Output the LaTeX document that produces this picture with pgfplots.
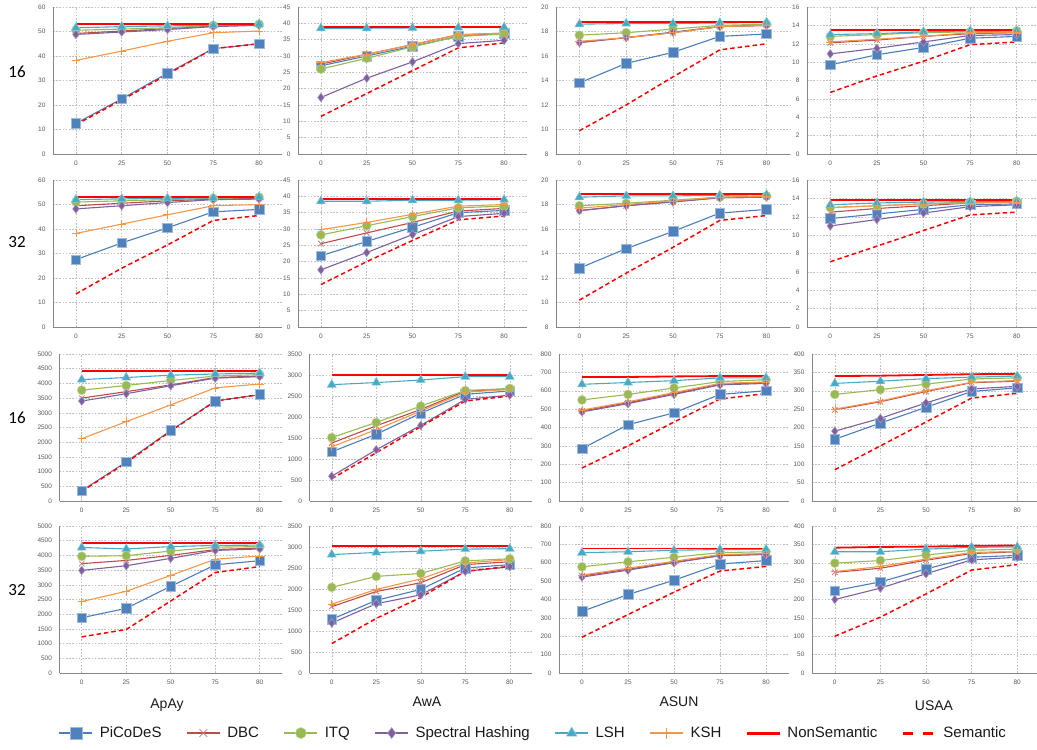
\documentclass[border=0pt]{standalone}
\usepackage{fontspec}
\setmainfont{Liberation Sans}
\newfontfamily\calibri{Carlito}
\usepackage{pgfplots}
\pgfplotsset{compat=1.18}
\usepackage{pgfplotstable}

\definecolor{cP}{HTML}{4A7EBB}
\definecolor{cPf}{HTML}{4F81BD}
\definecolor{cD}{HTML}{BE4B48}
\definecolor{cI}{HTML}{98B954}
\definecolor{cS}{HTML}{7D60A0}
\definecolor{cL}{HTML}{46AAC5}
\definecolor{cK}{HTML}{F79646}
\definecolor{axgray}{HTML}{868686}
\definecolor{grdgray}{HTML}{BFBFBF}
\definecolor{lblgray}{HTML}{595959}

% columns: x, PiCoDeS, DBC, ITQ, Spectral, LSH, KSH, NonSemantic, Semantic
\pgfplotstableread{
x P D I S L K N M
0 12.5 49.2 50.5 48.8 51.5 38.2 53 12
1 22.5 50.2 51.0 49.8 52.0 42.0 53 22
2 33.0 51.2 51.5 50.8 52.3 46.0 53 32.5
3 43.0 52.2 52.5 52.0 52.5 49.5 53 43
4 45.0 52.7 53.0 52.5 53.0 50.2 53 45
}\tA
\pgfplotstableread{
x P D I S L K N M
0 27 27.5 26 17.3 38.5 28 39 11.5
1 30 30.5 29.3 23.2 38.5 30.5 39 18.5
2 33 33.5 32.8 28.2 38.6 33.5 39 25.5
3 36 36.5 36 33.8 38.7 36.5 39 32.5
4 37 37 36.7 34.8 38.8 37 39 34
}\tB
\pgfplotstableread{
x P D I S L K N M
0 13.8 17.1 17.7 17.1 18.6 17.2 18.8 9.9
1 15.4 17.5 17.9 17.5 18.65 17.5 18.8 12
2 16.3 17.9 18.2 17.95 18.65 17.9 18.8 14.3
3 17.6 18.4 18.5 18.4 18.7 18.4 18.8 16.5
4 17.8 18.5 18.6 18.5 18.75 18.5 18.8 17
}\tC
\pgfplotstableread{
x P D I S L K N M
0 9.7 12.1 12.8 10.9 13.0 12.2 13.5 6.7
1 10.8 12.4 13.0 11.5 13.1 12.5 13.5 8.5
2 11.6 12.8 13.2 12.2 13.3 12.8 13.5 10.1
3 12.6 13.1 13.3 12.9 13.4 13.2 13.5 11.9
4 12.8 13.2 13.4 13.0 13.4 13.2 13.5 12.2
}\tD
\pgfplotstableread{
x P D I S L K N M
0 27.5 49.5 51 48.2 52 38.2 53 13.5
1 34.3 50.5 51.5 49.5 52.3 42 53 24
2 40.5 51.5 52 50.8 52.5 45.8 53 33.5
3 47 52.2 52.5 52 52.7 49.5 53 43.5
4 48 52.5 53 52.2 53 50 53 45.5
}\tE
\pgfplotstableread{
x P D I S L K N M
0 21.8 25.5 28.2 17.5 38.5 29.8 39.2 13
1 26.2 28.8 31 22.8 38.5 32 39.2 20
2 30.5 32 33.8 28.3 38.8 34.5 39.2 26.5
3 35 35.5 36.5 33.8 38.8 37 39.2 32.8
4 35.7 36.3 37 34.8 39 37.5 39.2 34
}\tF
\pgfplotstableread{
x P D I S L K N M
0 12.8 17.5 17.9 17.5 18.6 17.7 18.85 10.2
1 14.4 17.9 18.1 17.9 18.7 18.0 18.85 12.4
2 15.8 18.25 18.35 18.2 18.7 18.3 18.85 14.5
3 17.3 18.55 18.6 18.55 18.75 18.6 18.85 16.7
4 17.6 18.6 18.7 18.6 18.8 18.65 18.85 17.1
}\tG
\pgfplotstableread{
x P D I S L K N M
0 11.8 12.5 13.0 11.0 13.3 13.0 13.8 7.1
1 12.3 12.9 13.2 11.7 13.5 13.2 13.8 8.8
2 12.8 13.2 13.4 12.4 13.6 13.4 13.8 10.5
3 13.3 13.5 13.6 13.1 13.65 13.5 13.8 12.2
4 13.4 13.6 13.7 13.3 13.7 13.6 13.8 12.5
}\tH
\pgfplotstableread{
x P D I S L K N M
0 350 3500 3770 3400 4130 2120 4420 330
1 1330 3720 3930 3650 4200 2700 4420 1300
2 2400 3950 4100 3920 4280 3270 4420 2380
3 3400 4200 4250 4180 4320 3850 4420 3400
4 3620 4250 4300 4230 4350 3980 4420 3620
}\tI
\pgfplotstableread{
x P D I S L K N M
0 1170 1380 1510 590 2770 1290 3000 530
1 1590 1790 1870 1220 2820 1700 3000 1150
2 2090 2180 2260 1800 2880 2140 3000 1770
3 2540 2620 2630 2420 2960 2590 3000 2380
4 2620 2660 2680 2520 2960 2660 3000 2500
}\tJ
\pgfplotstableread{
x P D I S L K N M
0 285 490 550 485 635 495 675 180
1 415 535 580 530 645 540 675 300
2 480 585 615 580 655 590 678 430
3 580 635 650 632 670 640 680 555
4 600 645 660 640 670 648 680 585
}\tK
\pgfplotstableread{
x P D I S L K N M
0 168 248 290 190 320 250 340 85
1 212 270 303 225 326 272 341 150
2 255 298 318 267 333 300 343 215
3 298 322 332 305 337 323 345 280
4 308 326 335 312 340 328 346 293
}\tL
\pgfplotstableread{
x P D I S L K N M
0 1880 3720 3970 3490 4270 2430 4420 1230
1 2200 3830 3990 3650 4220 2780 4420 1480
2 2950 4000 4150 3900 4300 3320 4420 2450
3 3680 4200 4280 4170 4340 3870 4420 3420
4 3820 4250 4300 4220 4350 3980 4420 3620
}\tM
\pgfplotstableread{
x P D I S L K N M
0 1280 1580 2040 1190 2820 1640 3020 700
1 1730 1940 2300 1650 2870 1990 3020 1300
2 1990 2150 2370 1860 2900 2240 3020 1800
3 2500 2580 2670 2420 2950 2620 3020 2420
4 2580 2650 2720 2530 2960 2700 3020 2540
}\tN
\pgfplotstableread{
x P D I S L K N M
0 335 528 578 522 655 533 678 195
1 427 565 605 560 660 570 678 318
2 505 603 630 600 668 608 678 440
3 593 640 655 638 672 645 678 555
4 612 648 660 645 673 650 678 580
}\tO
\pgfplotstableread{
x P D I S L K N M
0 224 274 299 200 330 276 341 100
1 248 285 306 231 330 290 343 152
2 283 307 321 270 337 310 344 215
3 315 325 334 308 342 328 346 280
4 320 330 337 315 343 331 347 295
}\tP

\pgfplotsset{
  serP/.style={color=cP, line width=1.1pt, mark=square*, mark size=4.8pt,
    mark options={solid, fill=cPf, draw=cPf!55!white, line width=0.6pt}},
  serD/.style={color=cD, line width=1.1pt, mark=x, mark size=3.9pt,
    mark options={solid, draw=cD!75!white, line width=0.8pt}},
  serI/.style={color=cI, line width=1.1pt, mark=*, mark size=4.5pt,
    mark options={solid, fill=cI, draw=cI!60!white, line width=0.5pt}},
  serS/.style={color=cS, line width=1.1pt, mark=diamond*, mark size=4.4pt,
    mark options={solid, fill=cS, draw=cS!60!white, line width=0.5pt}},
  serL/.style={color=cL, line width=1.1pt, mark=triangle*, mark size=5.2pt,
    mark options={solid, fill=cL, draw=cL!60!white, line width=0.5pt}},
  serK/.style={color=cK, line width=1.1pt, mark=+, mark size=4pt,
    mark options={solid, draw=cK, line width=0.6pt}},
  serN/.style={color=red, line width=1.8pt, no markers},
  serM/.style={color=red, line width=1.5pt, dash pattern=on 4.5pt off 3pt, no markers},
  panel/.style={
    scale only axis, height=147pt, anchor=south west,
    xmin=-0.5, xmax=4.5, xtick={0,1,2,3,4}, xticklabels={0,25,50,75,80},
    axis x line*=bottom, axis y line*=left,
    axis line style={draw=axgray, line width=0.9pt, -},
    xmajorgrids, ymajorgrids,
    major grid style={draw=grdgray, line width=0.5pt, dash pattern=on 1.6pt off 1.6pt},
    major tick length=0pt,
    tick label style={font=\fontsize{6.5}{7}\selectfont, text=lblgray},
    /pgf/number format/assume math mode=true,
    /pgf/number format/fixed,
    /pgf/number format/1000 sep={},
    scaled y ticks=false,
    yticklabel style={xshift=-4pt},
    xticklabel style={yshift=-3.5pt},
  },
}

\newcommand\panel[7]{%
\begin{axis}[panel, at={(#1pt,-#2pt)}, width=#3pt, ymin=#4, ymax=#5, ytick distance=#6]
\addplot[serP] table[x=x,y=P]{#7};
\addplot[serD] table[x=x,y=D]{#7};
\addplot[serI] table[x=x,y=I]{#7};
\addplot[serS] table[x=x,y=S]{#7};
\addplot[serL] table[x=x,y=L]{#7};
\addplot[serK] table[x=x,y=K]{#7};
\addplot[serN] table[x=x,y=N]{#7};
\addplot[serM] table[x=x,y=M]{#7};
\end{axis}}

\begin{document}
\begin{tikzpicture}
\useasboundingbox (0pt,0pt) rectangle (1037pt,-750pt);
% row 1
\panel{53}{154}{229}{0}{60}{10}{\tA}
\panel{298}{154}{229}{0}{45}{5}{\tB}
\panel{556}{154}{234}{8}{20}{2}{\tC}
\panel{807}{154}{233}{0}{16}{2}{\tD}
% row 2
\panel{53}{327}{229}{0}{60}{10}{\tE}
\panel{298}{327}{229}{0}{45}{5}{\tF}
\panel{556}{327}{234}{8}{20}{2}{\tG}
\panel{807}{327}{233}{0}{16}{2}{\tH}
% row 3
\panel{59.5}{501}{222.5}{0}{5000}{500}{\tI}
\panel{309.5}{501}{222.5}{0}{3500}{500}{\tJ}
\panel{559}{501}{230}{0}{800}{100}{\tK}
\panel{812}{501}{228}{0}{400}{50}{\tL}
% row 4
\panel{59.5}{673}{222.5}{0}{5000}{500}{\tM}
\panel{309.5}{673}{222.5}{0}{3500}{500}{\tN}
\panel{559}{673}{230}{0}{800}{100}{\tO}
\panel{812}{673}{228}{0}{400}{50}{\tP}

% legend
\begin{axis}[at={(0pt,-750pt)}, anchor=south west, scale only axis,
  width=1037pt, height=34pt, hide axis, xmin=0, xmax=1, ymin=0, ymax=1,
  legend columns=8,
  legend style={at={(0.514,0.5)}, anchor=center, draw=none, fill=none,
    font=\fontsize{15}{18}\selectfont, text=black!90,
    /tikz/every odd column/.append style={column sep=4pt},
    /tikz/every even column/.append style={column sep=22pt}},
  legend image code/.code={\draw[mark repeat=2, mark phase=2, #1]
    plot coordinates {(0pt,0pt) (16.5pt,0pt) (33pt,0pt)};}]
\addlegendimage{serP, line width=2.8pt, mark size=6pt}
\addlegendentry{PiCoDeS}
\addlegendimage{serD, line width=2.8pt, mark size=5.5pt}
\addlegendentry{DBC}
\addlegendimage{serI, line width=2.8pt, mark size=5.5pt}
\addlegendentry{ITQ}
\addlegendimage{serS, line width=2.8pt, mark size=5.5pt}
\addlegendentry{Spectral Hashing}
\addlegendimage{serL, line width=2.8pt, mark size=6pt}
\addlegendentry{LSH}
\addlegendimage{serK, line width=2.8pt, mark size=5.5pt}
\addlegendentry{KSH}
\addlegendimage{serN, line width=3pt}
\addlegendentry{NonSemantic}
\addlegendimage{serM, line width=3pt, dash pattern=on 10pt off 10pt}
\addlegendentry{Semantic}
\end{axis}

% row labels
\node[font=\calibri\fontsize{17}{20}\selectfont] at (17pt,-72pt) {16};
\node[font=\calibri\fontsize{17}{20}\selectfont] at (17pt,-242pt) {32};
\node[font=\calibri\fontsize{17}{20}\selectfont] at (17pt,-418pt) {16};
\node[font=\calibri\fontsize{17}{20}\selectfont] at (17pt,-590pt) {32};
% column labels
\node[font=\fontsize{14}{16}\selectfont, text=black!90] at (167pt,-705pt) {ApAy};
\node[font=\fontsize{14}{16}\selectfont, text=black!90] at (427pt,-702pt) {AwA};
\node[font=\fontsize{14}{16}\selectfont, text=black!90] at (679pt,-702pt) {ASUN};
\node[font=\fontsize{14}{16}\selectfont, text=black!90] at (934pt,-706pt) {USAA};
\end{tikzpicture}
\end{document}
